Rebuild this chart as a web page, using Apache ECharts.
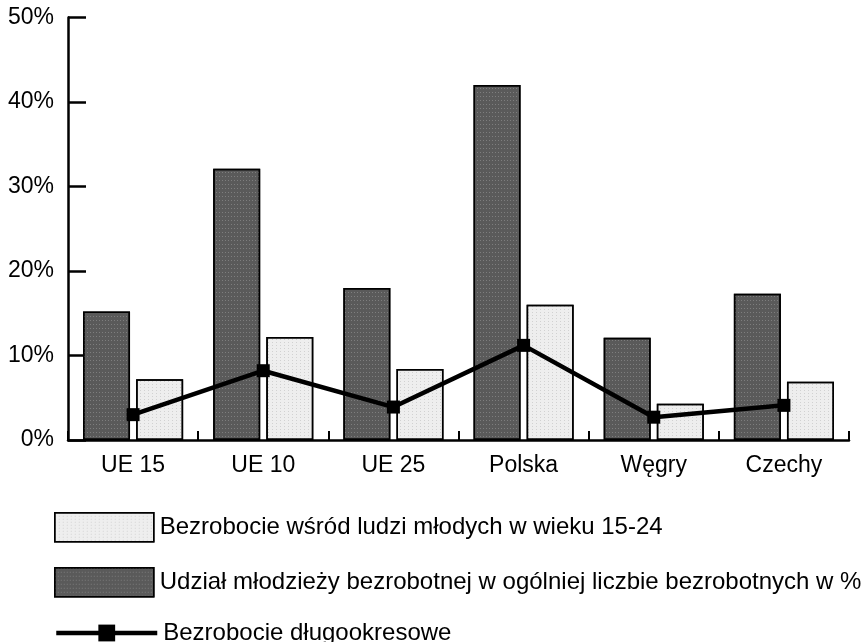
<!DOCTYPE html>
<html>
<head>
<meta charset="utf-8">
<script src="https://cdn.jsdelivr.net/npm/echarts@6/dist/echarts.min.js"></script>
<style>
html,body{margin:0;padding:0;background:#fff;}
#chart{width:863px;height:642px;}
</style>
</head>
<body>
<div id="chart"></div>
<script>
const categories = ['UE 15', 'UE 10', 'UE 25', 'Polska', 'Węgry', 'Czechy'];
const udzialValues = [15.2, 32.1, 18.0, 42.0, 12.1, 17.3];
const mlodziValues = [7.2, 12.2, 8.4, 16.0, 4.3, 6.9];
const dlugoValues = [3.0, 8.2, 3.9, 11.2, 2.7, 4.1];
const yTicks = { min: 0, max: 50, interval: 10 };

const nameMlodzi = 'Bezrobocie wśród ludzi młodych w wieku 15-24';
const nameUdzial = 'Udział młodzieży bezrobotnej w ogólniej liczbie bezrobotnych w %';
const nameDlugo = 'Bezrobocie długookresowe';

const FONT = 'Liberation Sans, Arial, sans-serif';
const chart = echarts.init(document.getElementById('chart'), null, { renderer: 'canvas' });

const legendText = { fontFamily: FONT, fontSize: 24, color: '#000', padding: [0, 0, 0, 1] };
const darkDecal = { symbol: 'rect', symbolSize: 1, color: 'rgba(255,255,255,0.22)', dashArrayX: [1, 2], dashArrayY: [1, 3], rotation: 0 };
const lightDecal = { symbol: 'rect', symbolSize: 1, color: 'rgba(0,0,0,0.12)', dashArrayX: [1, 3], dashArrayY: [1, 2], rotation: 0 };

chart.setOption({
  animation: false,
  backgroundColor: '#fff',
  aria: { enabled: false },
  grid: { left: 68, right: 14, top: 17.5, bottom: 202, containLabel: false },
  legend: [
    { data: [{ name: nameMlodzi, icon: 'rect' }], left: 54, top: 512, itemWidth: 99, itemHeight: 29, itemGap: 0,
      textStyle: legendText, selectedMode: false, padding: 0,
      itemStyle: { borderColor: '#000', borderWidth: 1.5 } },
    { data: [{ name: nameUdzial, icon: 'rect' }], left: 54, top: 567, itemWidth: 99, itemHeight: 29, itemGap: 0,
      textStyle: legendText, selectedMode: false, padding: 0,
      itemStyle: { borderColor: '#000', borderWidth: 1.5 } },
    { data: [nameDlugo], left: 54, top: 621, itemWidth: 101, itemHeight: 21, itemGap: 0,
      textStyle: legendText, selectedMode: false, padding: 0,
      lineStyle: { width: 4.5, color: '#000' } }
  ],
  xAxis: {
    type: 'category',
    data: categories,
    boundaryGap: true,
    axisLine: { lineStyle: { color: '#000', width: 2.5 } },
    axisTick: { show: true, inside: true, length: 9, alignWithLabel: false, lineStyle: { color: '#000', width: 2 } },
    axisLabel: { fontFamily: FONT, fontSize: 23, color: '#000', margin: 14 },
    splitLine: { show: false }
  },
  yAxis: {
    type: 'value',
    min: yTicks.min, max: yTicks.max, interval: yTicks.interval,
    axisLine: { show: true, lineStyle: { color: '#000', width: 2.5 } },
    axisTick: { show: true, inside: true, length: 18, lineStyle: { color: '#000', width: 2.5 } },
    axisLabel: { fontFamily: FONT, fontSize: 23, color: '#000', margin: 14, formatter: '{value}%' },
    splitLine: { show: false }
  },
  series: [
    {
      name: nameUdzial, type: 'bar', data: udzialValues,
      barWidth: 47, barGap: '13%',
      itemStyle: { color: '#5a5a5a', borderColor: '#000', borderWidth: 1.5, decal: darkDecal }
    },
    {
      name: nameMlodzi, type: 'bar', data: mlodziValues,
      barWidth: 47, barGap: '13%',
      itemStyle: { color: '#eeeeee', borderColor: '#000', borderWidth: 1.5, decal: lightDecal }
    },
    {
      name: nameDlugo, type: 'line', data: dlugoValues,
      symbol: 'rect', symbolSize: 13,
      lineStyle: { color: '#000', width: 4.5 },
      itemStyle: { color: '#000' },
      z: 5
    }
  ]
});
</script>
</body>
</html>
